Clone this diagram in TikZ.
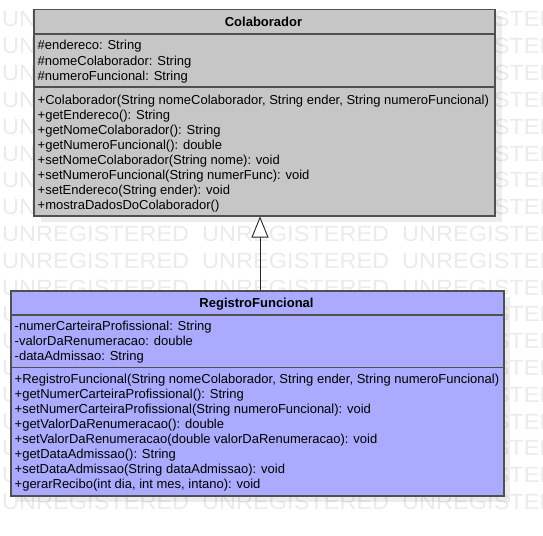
\documentclass[tikz,border=0pt]{standalone}
\usepackage{fontspec}
\setmainfont{Liberation Sans}
\usetikzlibrary{arrows.meta}
\definecolor{wmgray}{HTML}{EBEBEB}
\definecolor{boxgray}{HTML}{C6C6C6}
\definecolor{boxblue}{HTML}{AAAAFF}
\definecolor{edge}{HTML}{505050}
\tikzset{
  wm/.style={inner sep=0pt, text=wmgray, font=\fontsize{22}{22}\selectfont, xscale=1.07, transform shape},
  classbox/.style={draw=edge, line width=1.5pt, inner sep=0pt, anchor=north west},
  shadowbox/.style={fill=black, fill opacity=0.07, draw=none, inner sep=0pt, anchor=north west},
  sep/.style={draw=edge, line width=1.5pt},
  member/.style={inner sep=0pt, anchor=base west, font=\fontsize{13}{15}\selectfont},
  title/.style={inner sep=0pt, anchor=base, font=\fontsize{13}{15}\selectfont\bfseries},
  inherit/.style={draw=black!85, line width=0.9pt, -{Triangle[open, fill=white, length=21pt, width=17pt]}}
}
\begin{document}
\begin{tikzpicture}[x=1pt, y=-1pt]
\useasboundingbox (0,0) rectangle (543,535);
\fill[white] (0,0) rectangle (543,535);
% watermark
\foreach \k in {0,...,18} {
  \foreach \x in {2,202,402} {
    \node[wm, anchor=base west] at (\x, 27+26.8*\k) {UNREGISTERED};
  }
}
% shadows
\node[shadowbox, minimum width=461pt, minimum height=206pt] (colshadow) at (41,16) {};
\node[shadowbox, minimum width=493pt, minimum height=205pt] (regshadow) at (17,297) {};
% Colaborador
\node[classbox, fill=boxgray, minimum width=461pt, minimum height=206pt] (col) at (33,9) {};
\draw[sep] (col.west |- 0,34) -- (col.east |- 0,34);
\draw[sep] (col.west |- 0,87) -- (col.east |- 0,87);
\node[title] (coltitle) at (263.5,26.5) {Colaborador};
\node[member] (ca1) at (37.5,50) {\#endereco: String};
\node[member] (ca2) at (37.5,65) {\#nomeColaborador: String};
\node[member] (ca3) at (37.5,80) {\#numeroFuncional: String};
\node[member] (cm1) at (37.5,104) {+Colaborador(String nomeColaborador, String ender, String numeroFuncional)};
\node[member] (cm2) at (37.5,119) {+getEndereco(): String};
\node[member] (cm3) at (37.5,134) {+getNomeColaborador(): String};
\node[member] (cm4) at (37.5,149) {+getNumeroFuncional(): double};
\node[member] (cm5) at (37.5,164) {+setNomeColaborador(String nome): void};
\node[member] (cm6) at (37.5,179) {+setNumeroFuncional(String numerFunc): void};
\node[member] (cm7) at (37.5,194) {+setEndereco(String ender): void};
\node[member] (cm8) at (37.5,209) {+mostraDadosDoColaborador()};
% RegistroFuncional
\node[classbox, fill=boxblue, minimum width=493pt, minimum height=205pt] (reg) at (10,290) {};
\draw[sep] (reg.west |- 0,315) -- (reg.east |- 0,315);
\draw[sep] (reg.west |- 0,367.5) -- (reg.east |- 0,367.5);
\node[title] (regtitle) at (256.5,307.5) {RegistroFuncional};
\node[member] (ra1) at (14.5,330.5) {-numerCarteiraProfissional: String};
\node[member] (ra2) at (14.5,345.5) {-valorDaRenumeracao: double};
\node[member] (ra3) at (14.5,360.5) {-dataAdmissao: String};
\node[member] (rm1) at (14.5,383.5) {+RegistroFuncional(String nomeColaborador, String ender, String numeroFuncional)};
\node[member] (rm2) at (14.5,398.5) {+getNumerCarteiraProfissional(): String};
\node[member] (rm3) at (14.5,413.5) {+setNumerCarteiraProfissional(String numeroFuncional): void};
\node[member] (rm4) at (14.5,428.5) {+getValorDaRenumeracao(): double};
\node[member] (rm5) at (14.5,443.5) {+setValorDaRenumeracao(double valorDaRenumeracao): void};
\node[member] (rm6) at (14.5,458.5) {+getDataAdmissao(): String};
\node[member] (rm7) at (14.5,473.5) {+setDataAdmissao(String dataAdmissao): void};
\node[member] (rm8) at (14.5,488.5) {+gerarRecibo(int dia, int mes, intano): void};
% generalization
\coordinate (ax) at (260,0);
\draw[inherit] (reg.north -| ax) -- (col.south -| ax);
\end{tikzpicture}
\end{document}
